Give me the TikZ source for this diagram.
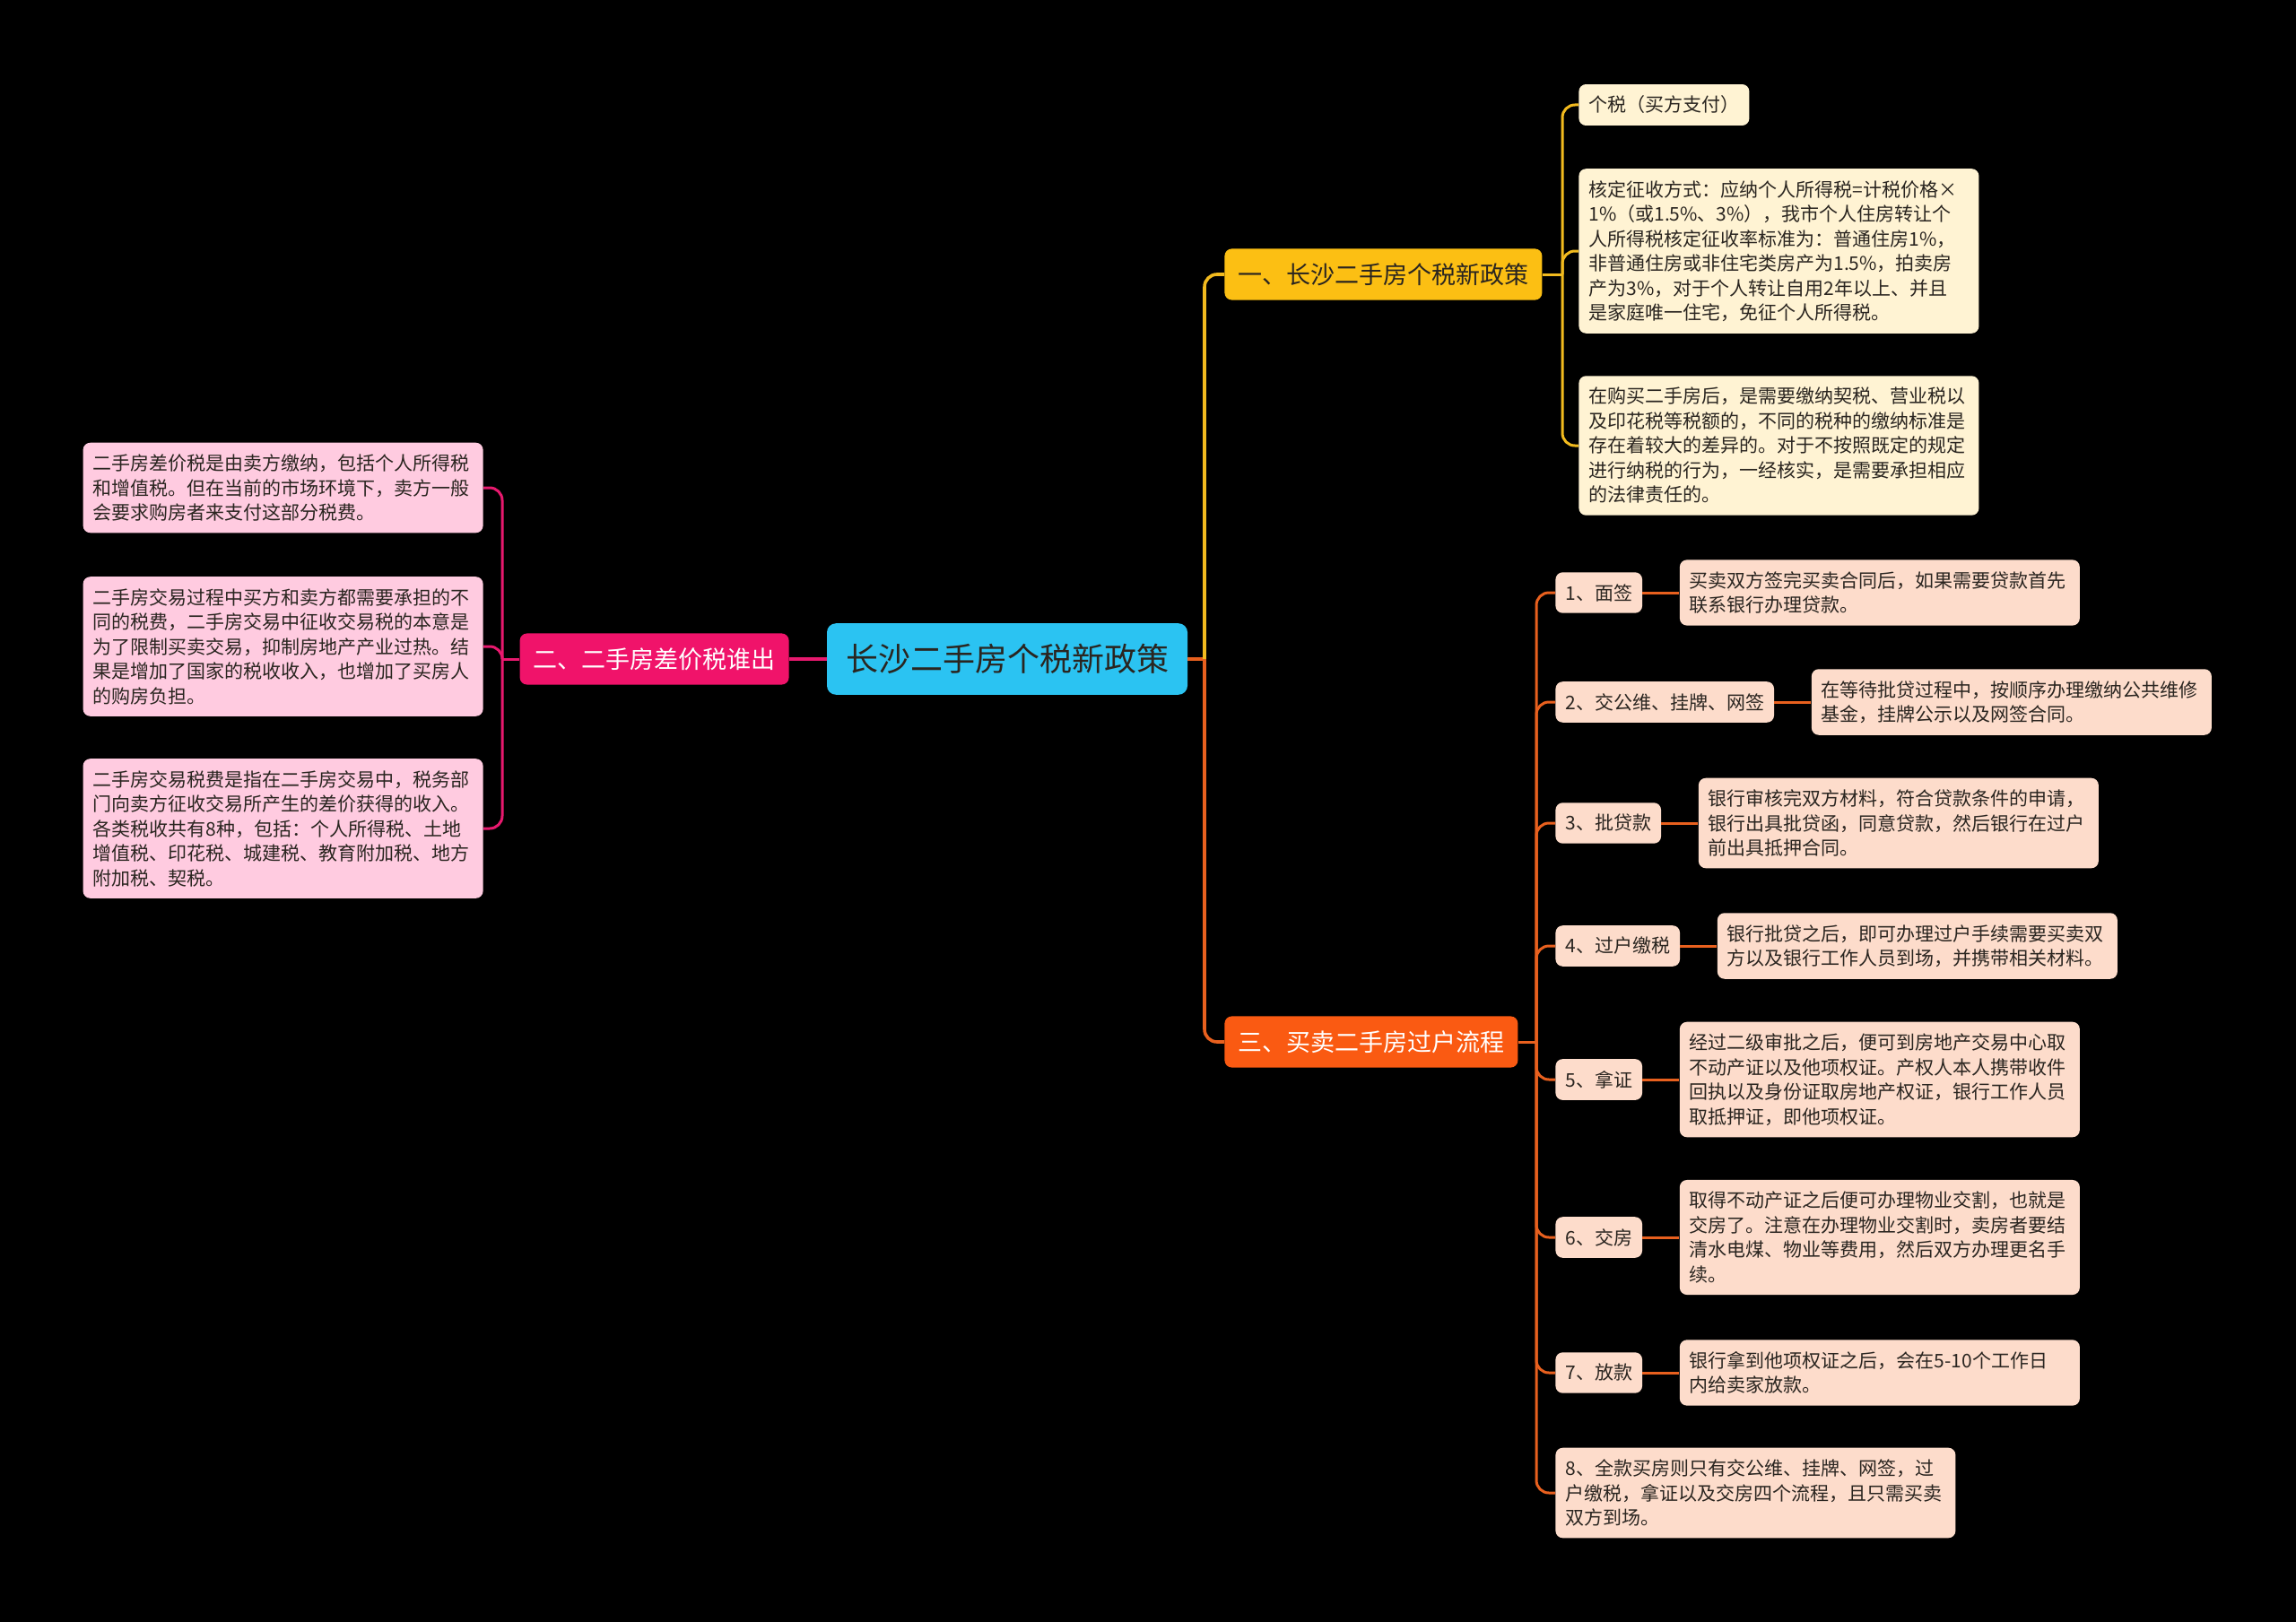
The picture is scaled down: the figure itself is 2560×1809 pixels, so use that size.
\documentclass[tikz,border=0pt]{standalone}
\usepackage{fontspec}
\newfontfamily\cjk{Noto Sans CJK SC}
\usetikzlibrary{positioning}
\definecolor{bg}{HTML}{000000}
\definecolor{rootc}{HTML}{2BC3F2}
\definecolor{c1}{HTML}{FCBF13}
\definecolor{c1l}{HTML}{FFF3D3}
\definecolor{c2}{HTML}{F0136A}
\definecolor{c2l}{HTML}{FFCBE0}
\definecolor{c3}{HTML}{FA5A12}
\definecolor{c3l}{HTML}{FDDCCB}
\definecolor{ln1}{HTML}{F2BA1E}
\definecolor{ln2}{HTML}{E8196E}
\definecolor{ln3}{HTML}{E8601E}
\definecolor{txt}{HTML}{2A2520}
\begin{document}
\begin{tikzpicture}[x=0.5pt,y=-0.5pt,
  rootbox/.style={fill=rootc, rounded corners=5pt, inner xsep=10.5pt, inner ysep=11.5pt,
    font=\cjk\fontsize{18pt}{22pt}\selectfont, text=txt},
  branchbox/.style={rounded corners=4pt, inner xsep=7.5pt, inner ysep=8pt,
    font=\cjk\fontsize{13.5pt}{16pt}\selectfont},
  leafbox/.style={rounded corners=4pt, inner xsep=5.5pt, inner ysep=6.5pt,
    font=\cjk\fontsize{10.5pt}{13.75pt}\selectfont, text=txt},
  wide/.style={leafbox, text width=212pt, align=left},
  link/.style={line width=1.5pt, rounded corners=7pt},
  trunk/.style={line width=1.8pt, rounded corners=7pt},
]
\fill[bg] (0,0) rectangle (2560,1809);
\useasboundingbox (0,0) rectangle (2560,1809);

% root and branches
\node[rootbox] (root) at (1123,735) {长沙二手房个税新政策};
\node[branchbox, fill=c1, text=txt, anchor=west] (b1) at (1365,306) {一、长沙二手房个税新政策};
\node[branchbox, fill=c2, text=white, anchor=east] (b2) at (880,735) {二、二手房差价税谁出};
\node[branchbox, fill=c3, text=white, anchor=west] (b3) at (1365,1162) {三、买卖二手房过户流程};

% branch 1 leaves
\node[leafbox, fill=c1l, anchor=west] (a1) at (1760,117) {个税（买方支付）};
\node[wide, fill=c1l, anchor=west] (a2) at (1760,280) {核定征收方式：应纳个人所得税=计税价格×\\1\%（或1.5\%、3\%），我市个人住房转让个\\人所得税核定征收率标准为：普通住房1\%，\\非普通住房或非住宅类房产为1.5\%，拍卖房\\产为3\%，对于个人转让自用2年以上、并且\\是家庭唯一住宅，免征个人所得税。};
\node[wide, fill=c1l, anchor=west] (a3) at (1760,497) {在购买二手房后，是需要缴纳契税、营业税以\\及印花税等税额的，不同的税种的缴纳标准是\\存在着较大的差异的。对于不按照既定的规定\\进行纳税的行为，一经核实，是需要承担相应\\的法律责任的。};

% branch 2 leaves
\node[wide, fill=c2l, anchor=east] (p1) at (539,544) {二手房差价税是由卖方缴纳，包括个人所得税\\和增值税。但在当前的市场环境下，卖方一般\\会要求购房者来支付这部分税费。};
\node[wide, fill=c2l, anchor=east] (p2) at (539,721) {二手房交易过程中买方和卖方都需要承担的不\\同的税费，二手房交易中征收交易税的本意是\\为了限制买卖交易，抑制房地产产业过热。结\\果是增加了国家的税收收入，也增加了买房人\\的购房负担。};
\node[wide, fill=c2l, anchor=east] (p3) at (539,924) {二手房交易税费是指在二手房交易中，税务部\\门向卖方征收交易所产生的差价获得的收入。\\各类税收共有8种，包括：个人所得税、土地\\增值税、印花税、城建税、教育附加税、地方\\附加税、契税。};

% branch 3 steps
\node[leafbox, fill=c3l, anchor=west] (s1) at (1734,661) {1、面签};
\node[leafbox, fill=c3l, anchor=west] (s2) at (1734,783) {2、交公维、挂牌、网签};
\node[leafbox, fill=c3l, anchor=west] (s3) at (1734,918) {3、批贷款};
\node[leafbox, fill=c3l, anchor=west] (s4) at (1734,1055) {4、过户缴税};
\node[leafbox, fill=c3l, anchor=west] (s5) at (1734,1204) {5、拿证};
\node[leafbox, fill=c3l, anchor=west] (s6) at (1734,1380) {6、交房};
\node[leafbox, fill=c3l, anchor=west] (s7) at (1734,1531) {7、放款};
\node[wide, fill=c3l, anchor=west] (s8) at (1734,1665) {8、全款买房则只有交公维、挂牌、网签，过\\户缴税，拿证以及交房四个流程，且只需买卖\\双方到场。};

% branch 3 descriptions
\node[wide, fill=c3l, right=20.5pt of s1] (d1) {买卖双方签完买卖合同后，如果需要贷款首先\\联系银行办理贷款。};
\node[wide, fill=c3l, right=20.5pt of s2] (d2) {在等待批贷过程中，按顺序办理缴纳公共维修\\基金，挂牌公示以及网签合同。};
\node[wide, fill=c3l, right=20.5pt of s3] (d3) {银行审核完双方材料，符合贷款条件的申请，\\银行出具批贷函，同意贷款，然后银行在过户\\前出具抵押合同。};
\node[wide, fill=c3l, right=20.5pt of s4] (d4) {银行批贷之后，即可办理过户手续需要买卖双\\方以及银行工作人员到场，并携带相关材料。};
\node[wide, fill=c3l, right=20.5pt of s5] (d5) {经过二级审批之后，便可到房地产交易中心取\\不动产证以及他项权证。产权人本人携带收件\\回执以及身份证取房地产权证，银行工作人员\\取抵押证，即他项权证。};
\node[wide, fill=c3l, right=20.5pt of s6] (d6) {取得不动产证之后便可办理物业交割，也就是\\交房了。注意在办理物业交割时，卖房者要结\\清水电煤、物业等费用，然后双方办理更名手\\续。};
\node[wide, fill=c3l, right=20.5pt of s7] (d7) {银行拿到他项权证之后，会在5-10个工作日\\内给卖家放款。};

% connectors: root
\coordinate (rj) at (1343,735);
\coordinate (lj) at (560,735);
\draw[ln3, trunk] (root.east) -- (rj);
\draw[ln1, trunk] (rj) |- (b1.west);
\draw[ln3, trunk] (rj) |- (b3.west);
\draw[ln2, trunk] (root.west) -- (b2.east);

% branch 1
\coordinate (j1) at (1742,306);
\draw[ln1, link] (b1.east) -- (j1);
\foreach \n in {a1,a2,a3} \draw[ln1, link] (j1) |- (\n.west);

% branch 2
\draw[ln2, link] (b2.west) -- (lj);
\foreach \n in {p1,p2,p3} \draw[ln2, link] (lj) |- (\n.east);

% branch 3
\coordinate (j3) at (1713,1162);
\draw[ln3, link] (b3.east) -- (j3);
\foreach \n in {s1,s2,s3,s4,s5,s6,s7,s8} \draw[ln3, link] (j3) |- (\n.west);
\foreach \i in {1,...,7} \draw[ln3, link] (s\i.east) -- (d\i.west);
\end{tikzpicture}
\end{document}
